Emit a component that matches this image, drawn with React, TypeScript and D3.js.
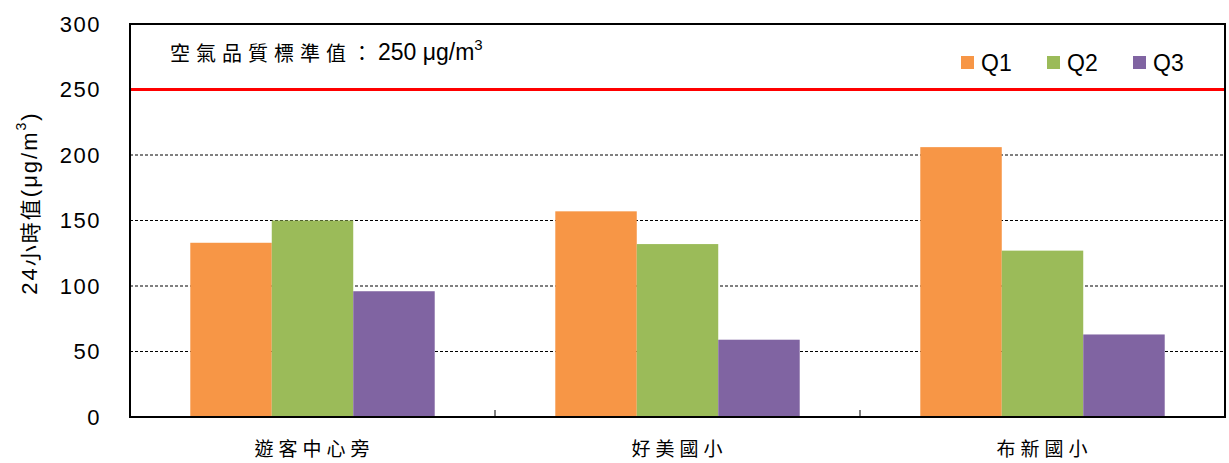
import React from 'react';
import * as d3 from 'd3';

// chart data
const categories = ['遊客中心旁', '好美國小', '布新國小'];
const seriesNames = ['Q1', 'Q2', 'Q3'];
const q1Values = [133, 157, 206];
const q2Values = [150, 132, 127];
const q3Values = [96, 59, 63];
const yTicks = [0, 50, 100, 150, 200, 250, 300];
const standardValue = 250;

const colors = ['#F79646', '#9BBB59', '#8064A2'];

const W = 1229;
const H = 463;
const margin = { top: 24, right: 4, bottom: 46, left: 130 };

export default function App() {
  const innerW = W - margin.left - margin.right;
  const innerH = H - margin.top - margin.bottom;
  const series = [q1Values, q2Values, q3Values];

  const x0 = d3.scaleBand<string>().domain(categories).range([0, innerW]).paddingInner(0).paddingOuter(0);
  const x1 = d3
    .scaleBand<string>()
    .domain(seriesNames)
    .range([0, x0.bandwidth()])
    .paddingInner(0)
    .paddingOuter(0.74);
  const y = d3.scaleLinear().domain([0, 300]).range([innerH, 0]);

  const sans = 'Arial, "Liberation Sans", sans-serif';
  const cjk = '"Noto Sans CJK TC", "Noto Sans CJK SC", sans-serif';

  return (
    <svg width={W} height={H} style={{ position: 'absolute', left: 0, top: 0, background: '#fff' }}>
      <g transform={`translate(${margin.left},${margin.top})`}>
        {/* gridlines */}
        {yTicks
          .filter((t) => t > 0 && t < 300 && t !== standardValue)
          .map((t) => (
            <line key={t} x1={0} x2={innerW} y1={y(t)} y2={y(t)} stroke="#000" strokeWidth={1} strokeDasharray="3,2" />
          ))}
        {/* bars */}
        {categories.map((c, ci) => (
          <g key={c} transform={`translate(${x0(c)},0)`}>
            {seriesNames.map((s, si) => (
              <rect
                key={s}
                x={x1(s)}
                y={y(series[si][ci])}
                width={x1.bandwidth()}
                height={innerH - y(series[si][ci])}
                fill={colors[si]}
              />
            ))}
          </g>
        ))}
        {/* standard line */}
        <line x1={0} x2={innerW} y1={y(standardValue)} y2={y(standardValue)} stroke="#FF0000" strokeWidth={3} />
        {/* frame */}
        <rect x={0} y={0} width={innerW} height={innerH} fill="none" stroke="#000" strokeWidth={2} />
        {/* x category separators */}
        {categories.slice(1).map((c) => (
          <line key={c} x1={x0(c)} x2={x0(c)} y1={innerH} y2={innerH - 7} stroke="#000" strokeWidth={1} />
        ))}
        {/* y tick labels */}
        {yTicks.map((t) => (
          <text
            key={t}
            x={-29}
            y={y(t)}
            textAnchor="end"
            dominantBaseline="central"
            fontFamily={sans}
            fontSize={22}
            letterSpacing={1.5}
            fill="#000"
          >
            {t}
          </text>
        ))}
        {/* x labels */}
        {categories.map((c) => (
          <text
            key={c}
            x={(x0(c) as number) + x0.bandwidth() / 2 + 2}
            y={innerH + 30}
            textAnchor="middle"
            dominantBaseline="central"
            fontFamily={cjk}
            fontSize={19}
            letterSpacing={5}
            fill="#000"
          >
            {c}
          </text>
        ))}
        {/* annotation */}
        <text x={40} y={28} dominantBaseline="central" fill="#000">
          <tspan fontFamily={cjk} fontSize={20} letterSpacing={6}>
            空氣品質標準值：
          </tspan>
          <tspan fontFamily={sans} fontSize={23}>
            250 μg/m
          </tspan>
          <tspan fontFamily={sans} fontSize={15} dy={-8}>
            3
          </tspan>
        </text>
        {/* legend */}
        {seriesNames.map((s, i) => (
          <g key={s} transform={`translate(${831 + i * 86},38)`}>
            <rect x={0} y={-6} width={13} height={13} fill={colors[i]} />
            <text x={20} y={1} dominantBaseline="central" fontFamily={sans} fontSize={23} fill="#000">
              {s}
            </text>
          </g>
        ))}
      </g>
      {/* y axis title */}
      <text
        transform={`translate(29,${203}) rotate(-90)`}
        textAnchor="middle"
        dominantBaseline="central"
        fill="#000"
        letterSpacing={2}
      >
        <tspan fontFamily={sans} fontSize={22}>24</tspan>
        <tspan fontFamily={cjk} fontSize={21}>小時值</tspan>
        <tspan fontFamily={sans} fontSize={22}>(μg/m</tspan>
        <tspan fontFamily={sans} fontSize={14} dy={-8}>3</tspan>
        <tspan fontFamily={sans} fontSize={22} dy={8}>)</tspan>
      </text>
    </svg>
  );
}
